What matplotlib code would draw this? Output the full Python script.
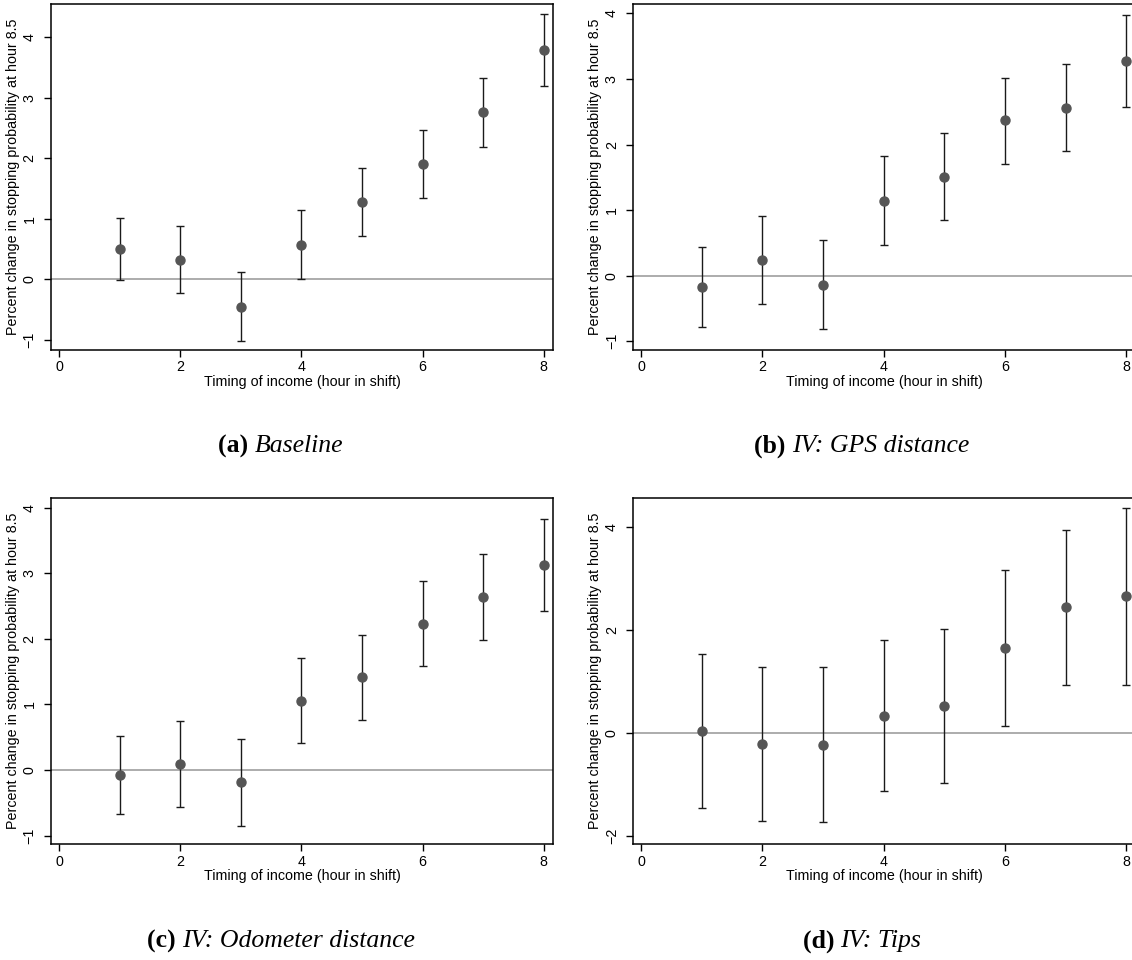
import numpy as np
import matplotlib
matplotlib.use("Agg")
import matplotlib.pyplot as plt

plt.rcParams['font.family'] = ['Liberation Sans', 'DejaVu Sans']

# hour in shift when the income arrives
hours = [1, 2, 3, 4, 5, 6, 7, 8]

# (a) baseline
base_est = [0.50, 0.32, -0.45, 0.57, 1.28, 1.90, 2.76, 3.79]
base_lo = [-0.01, -0.22, -1.02, 0.01, 0.71, 1.34, 2.18, 3.19]
base_hi = [1.02, 0.875, 0.115, 1.14, 1.84, 2.47, 3.33, 4.39]

# (b) IV: GPS distance
gps_est = [-0.17, 0.24, -0.14, 1.145, 1.50, 2.37, 2.565, 3.28]
gps_lo = [-0.78, -0.43, -0.82, 0.47, 0.845, 1.71, 1.90, 2.58]
gps_hi = [0.43, 0.91, 0.54, 1.82, 2.17, 3.02, 3.23, 3.98]

# (c) IV: odometer distance
odo_est = [-0.07, 0.086, -0.19, 1.05, 1.41, 2.23, 2.64, 3.13]
odo_lo = [-0.67, -0.56, -0.85, 0.41, 0.76, 1.59, 1.98, 2.43]
odo_hi = [0.52, 0.74, 0.47, 1.70, 2.06, 2.88, 3.29, 3.83]

# (d) IV: tips
tips_est = [0.026, -0.22, -0.233, 0.33, 0.518, 1.64, 2.43, 2.65]
tips_lo = [-1.47, -1.715, -1.74, -1.14, -0.984, 0.13, 0.925, 0.925]
tips_hi = [1.52, 1.27, 1.275, 1.806, 2.02, 3.15, 3.94, 4.37]

captions = [("(a)", "Baseline"), ("(b)", "IV: GPS distance"),
            ("(c)", "IV: Odometer distance"), ("(d)", "IV: Tips")]

W, H = 1132, 960
fig = plt.figure(figsize=(W / 100, H / 100), dpi=100)


def px_axes(left, top, right, bottom):
    return fig.add_axes([left / W, 1 - bottom / H, (right - left) / W, (bottom - top) / H])


def coef_plot(ax, est, lo, hi, ylim, yticks):
    est = np.array(est)
    yerr = np.vstack([est - np.array(lo), np.array(hi) - est])
    ax.axhline(0, color='#a6a6a6', lw=1.3, zorder=1)
    ax.errorbar(hours, est, yerr=yerr, fmt='o', color='#555555', ms=6.5,
                ecolor='#1a1a1a', elinewidth=1.0, capsize=3.2, capthick=1.0, zorder=3)
    ax.set_xlim(-0.14, 8.16)
    ax.set_ylim(*ylim)
    ax.set_xticks([0, 2, 4, 6, 8])
    ax.set_yticks(yticks)
    ax.set_yticklabels([str(t).replace('-', '\u2212') for t in yticks],
                       rotation=90, va='center')
    ax.tick_params(direction='out', length=5, width=1, labelsize=10.3, pad=2.5)
    ax.tick_params(axis='y', pad=5)
    for s in ax.spines.values():
        s.set_linewidth(1.1)
    ax.set_xlabel("Timing of income (hour in shift)", fontsize=10.3, labelpad=0.5)
    ax.set_ylabel("Percent change in stopping probability at hour 8.5", fontsize=10.3, labelpad=2)


panels = [
    ((50.5, 4.3, 553.4, 350), base_est, base_lo, base_hi, (-1.167, 4.545), [-1, 0, 1, 2, 3, 4]),
    ((632.8, 4.3, 1135.8, 350), gps_est, gps_lo, gps_hi, (-1.134, 4.14), [-1, 0, 1, 2, 3, 4]),
    ((50.5, 498.3, 553.4, 844.3), odo_est, odo_lo, odo_hi, (-1.133, 4.142), [-1, 0, 1, 2, 3, 4]),
    ((632.8, 498.3, 1135.8, 844.3), tips_est, tips_lo, tips_hi, (-2.168, 4.55), [-2, 0, 2, 4]),
]
cap_pos = [(281, 446), (862, 446), (281, 941), (862, 941)]

for (box, est, lo, hi, ylim, yt), (tag, name), (cx, cy) in zip(panels, captions, cap_pos):
    ax = px_axes(*box)
    coef_plot(ax, est, lo, hi, ylim, yt)
    # caption below each panel: bold tag, italic title
    t1 = fig.text(0, 0, tag + " ", fontsize=18.5, fontweight='bold', family='Liberation Serif')
    t2 = fig.text(0, 0, name, fontsize=18.5, style='italic', family='Liberation Serif')
    r = fig.canvas.get_renderer()
    w1 = t1.get_window_extent(r).width
    w2 = t2.get_window_extent(r).width
    x0 = cx - (w1 + w2) / 2
    t1.set_position((x0 / W, 1 - cy / H))
    t2.set_position(((x0 + w1) / W, 1 - cy / H))
    t1.set_va('center')
    t2.set_va('center')

fig.savefig("out.png", dpi=100)
